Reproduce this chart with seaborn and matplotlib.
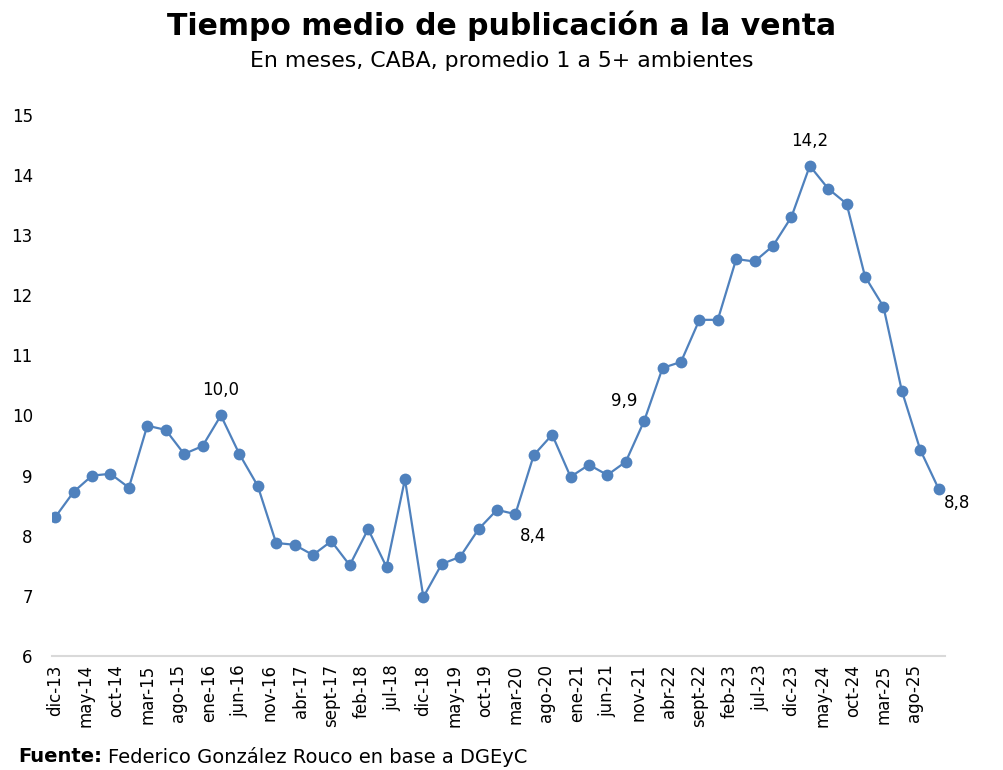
import numpy as np
import pandas as pd
import matplotlib
matplotlib.use("Agg")
import matplotlib.pyplot as plt
import seaborn as sns

# data: quarterly values, dic-13 .. dic-25 (months since dic-13)
months = list(range(0, 145, 3))
valores = [8.31, 8.73, 9.00, 9.03, 8.80, 9.83, 9.76, 9.36, 9.49, 10.00,
           9.36, 8.83, 7.88, 7.85, 7.68, 7.91, 7.51, 8.11, 7.48, 8.94,
           6.98, 7.53, 7.65, 8.11, 8.43, 8.36, 9.34, 9.68, 8.98, 9.18,
           9.01, 9.23, 9.91, 10.79, 10.89, 11.59, 11.59, 12.60, 12.56, 12.82,
           13.30, 14.15, 13.77, 13.52, 12.31, 11.81, 10.41, 9.43, 8.78]

tick_pos = list(range(0, 141, 5))
tick_labels = ["dic-13", "may-14", "oct-14", "mar-15", "ago-15", "ene-16", "jun-16",
               "nov-16", "abr-17", "sept-17", "feb-18", "jul-18", "dic-18", "may-19",
               "oct-19", "mar-20", "ago-20", "ene-21", "jun-21", "nov-21", "abr-22",
               "sept-22", "feb-23", "jul-23", "dic-23", "may-24", "oct-24", "mar-25",
               "ago-25"]

# labelled points: (index, text, dx px, dy px)
etiquetas = [(9, "10,0", 0, 25), (25, "8,4", 18, -22), (32, "9,9", -20, 20),
             (41, "14,2", 0, 25), (48, "8,8", 18, -14)]

df = pd.DataFrame({"mes": months, "valor": valores})

sns.set_style("white")
plt.rcParams["font.family"] = ["DejaVu Sans"]
plt.rcParams["text.color"] = "black"

fig = plt.figure(figsize=(10.04, 7.7), dpi=100)
ax = fig.add_axes([0.052, 0.148, 0.889, 0.703])

azul = "#4F81BD"
sns.lineplot(data=df, x="mes", y="valor", ax=ax, color=azul, linewidth=1.6,
             marker="o", markersize=8.5, markeredgewidth=0, markerfacecolor=azul)

ax.set_ylim(6, 15)
ax.set_xlim(-0.5, 145)
ax.set_yticks(range(6, 16))
ax.set_xticks(tick_pos)
ax.set_xticklabels(tick_labels, rotation=90)
ax.tick_params(axis="both", length=0, labelsize=12, colors="black")
ax.tick_params(axis="y", pad=14)
ax.tick_params(axis="x", pad=6)
ax.set_xlabel("")
ax.set_ylabel("")

for s in ["top", "right", "left"]:
    ax.spines[s].set_visible(False)
ax.spines["bottom"].set_color("#D9D9D9")
ax.spines["bottom"].set_linewidth(1.5)

for i, txt, dx, dy in etiquetas:
    ax.annotate(txt, (months[i], valores[i]), xytext=(dx, dy), color="black",
                textcoords="offset pixels", ha="center", va="center", fontsize=12)

fig.text(0.5, 0.967, "Tiempo medio de publicación a la venta", ha="center", va="center",
         fontsize=21.5, fontweight="bold", color="black")
fig.text(0.5, 0.921, "En meses, CABA, promedio 1 a 5+ ambientes", ha="center", va="center",
         fontsize=15.8, color="black")

fig.text(0.018, 0.017, "Fuente:", ha="left", va="center", fontsize=14, fontweight="bold",
         color="black")
fig.text(0.108, 0.017, "Federico González Rouco en base a DGEyC", ha="left", va="center",
         fontsize=14, color="black")

fig.savefig("out.png", dpi=100)
